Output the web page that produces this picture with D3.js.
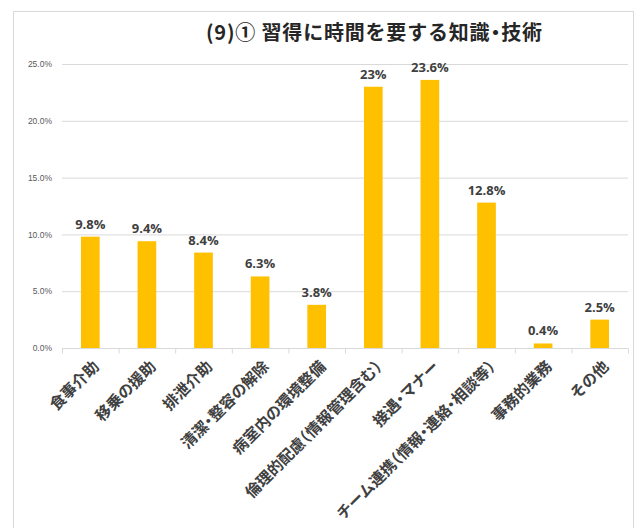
<!DOCTYPE html>
<html><head><meta charset="utf-8">
<script src="https://cdn.jsdelivr.net/npm/d3@7"></script>
<style>body{margin:0;background:#fff}svg{display:block}.cj{font-feature-settings:"halt" 1}</style>
</head><body>
<svg id="c" width="642" height="528"></svg>
<script>
const categories = ["食事介助","移乗の援助","排泄介助","清潔・整容の解除","病室内の環境整備","倫理的配慮（情報管理含む）","接遇・マナー","チーム連携（情報・連絡・相談等）","事務的業務","その他"];
const values = [9.8, 9.4, 8.4, 6.3, 3.8, 23, 23.6, 12.8, 0.4, 2.5];
const valueLabels = ["9.8%","9.4%","8.4%","6.3%","3.8%","23%","23.6%","12.8%","0.4%","2.5%"];
const yTicks = [0, 5, 10, 15, 20, 25];
const title = "(9)① 習得に時間を要する知識・技術";

const svg = d3.select("#c");
const font = "'Noto Sans CJK JP','Noto Sans',sans-serif";
svg.append("rect").attr("x",13.5).attr("y",11.5).attr("width",620).attr("height",530)
  .attr("fill","#fff").attr("stroke","#d9d9d9");

const x = d3.scaleBand().domain(categories).range([62,628]).paddingInner(0.67).paddingOuter(0.335);
const y = d3.scaleLinear().domain([0,25]).range([348,64]);

svg.append("text").attr("class","cj").attr("x",374).attr("y",40).attr("text-anchor","middle")
  .attr("font-family",font).attr("font-weight","bold").attr("font-size",20).attr("fill","#262626")
  .attr("textLength",336).attr("lengthAdjust","spacing").text(title);

// gridlines
svg.append("g").selectAll("line").data(yTicks.filter(d=>d>0)).join("line")
  .attr("x1",62).attr("x2",628).attr("y1",d=>y(d)+0.5).attr("y2",d=>y(d)+0.5)
  .attr("stroke","#d9d9d9").attr("stroke-width",1);

// y axis labels
const ya = svg.append("g").attr("transform","translate(62,0)")
  .call(d3.axisLeft(y).tickValues(yTicks).tickSize(0).tickPadding(10).tickFormat(d=>d.toFixed(1)+"%"));
ya.select(".domain").remove();
ya.selectAll("text").attr("font-family","'Liberation Sans',sans-serif").attr("font-size",8.5).attr("fill","#595959");

// bars
svg.append("g").selectAll("rect").data(values).join("rect")
  .attr("x",(d,i)=>x(categories[i])).attr("width",x.bandwidth())
  .attr("y",d=>y(d)).attr("height",d=>y(0)-y(d)).attr("fill","#FFC000");

// value labels
svg.append("g").selectAll("text").data(values).join("text")
  .attr("x",(d,i)=>x(categories[i])+x.bandwidth()/2).attr("y",d=>y(d)-8)
  .attr("text-anchor","middle").attr("font-family","'Open Sans',sans-serif").attr("font-weight","bold")
  .attr("font-size",13).attr("fill","#404040").text((d,i)=>valueLabels[i]);

// x axis
const step = x.step();
const xa = svg.append("g").attr("transform","translate(0,348.5)");
xa.append("line").attr("x1",62).attr("x2",628).attr("stroke","#d9d9d9");
xa.selectAll("line.t").data(d3.range(categories.length+1)).join("line").attr("class","t")
  .attr("x1",i=>62+i*step+0.5).attr("x2",i=>62+i*step+0.5).attr("y1",0).attr("y2",5).attr("stroke","#d9d9d9");
xa.selectAll("text").data(categories).join("text").attr("class","cj")
  .attr("transform",d=>`translate(${x(d)+x.bandwidth()/2+5},${14}) rotate(-45)`)
  .attr("text-anchor","end").attr("dominant-baseline","central")
  .attr("font-family",font).attr("font-weight","bold").attr("font-size",15.5).attr("fill","#404040").text(d=>d);
</script>
</body></html>
